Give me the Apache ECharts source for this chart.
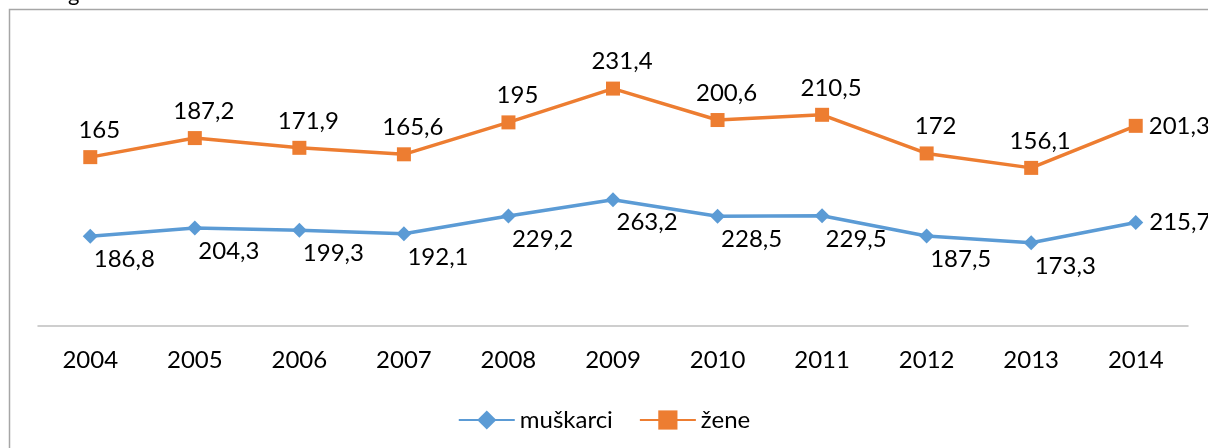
<!DOCTYPE html>
<html>
<head>
<meta charset="utf-8">
<script src="https://cdn.jsdelivr.net/npm/echarts@6/dist/echarts.min.js"></script>
<style>html,body{margin:0;padding:0;background:#fff;}#c{width:1208px;height:448px;}</style>
</head>
<body>
<div id="c"></div>
<script>
const categories = ['2004','2005','2006','2007','2008','2009','2010','2011','2012','2013','2014'];
const muskarci = [186.8, 204.3, 199.3, 192.1, 229.2, 263.2, 228.5, 229.5, 187.5, 173.3, 215.7];
const zene = [165, 187.2, 171.9, 165.6, 195, 231.4, 200.6, 210.5, 172, 156.1, 201.3];
const seriesNames = ['muškarci', 'žene'];

const FONT = 'Lato';
const FS = 24;
const fmt = p => String(p.value).replace('.', ',');
const last = categories.length - 1;

const blueData = muskarci.map((v, i) => i === last
  ? { value: v, label: { position: 'right', distance: 6, offset: [0, 0] } }
  : v);
const orangeData = zene.map((v, i) => i === last
  ? { value: v, label: { position: 'right', distance: 6, offset: [0, 0] } }
  : v);

const chart = echarts.init(document.getElementById('c'), null, { renderer: 'canvas' });
chart.setOption({
  animation: false,
  textStyle: { fontFamily: FONT },
  graphic: [
    { type: 'rect', shape: { x: 9.5, y: 9.5, width: 1220, height: 460 }, style: { fill: 'none', stroke: '#A6A6A6', lineWidth: 1.5 }, silent: true, z: -1 },
    { type: 'text', left: 68, top: -17, style: { text: 'g', font: '22px ' + FONT, fill: '#000' }, silent: true }
  ],
  grid: { left: 38, right: 20, top: 38, bottom: 122 },
  xAxis: {
    type: 'category',
    data: categories,
    boundaryGap: true,
    axisLine: { lineStyle: { color: '#BFBFBF', width: 1.5 } },
    axisTick: { show: false },
    axisLabel: { color: '#000', fontSize: FS, fontFamily: FONT, margin: 22 }
  },
  yAxis: {
    type: 'value', min: 0, max: 600,
    show: false,
    splitLine: { show: false }
  },
  legend: {
    bottom: 11,
    left: 'center',
    itemWidth: 56,
    itemHeight: 24,
    itemGap: 26,
    textStyle: { color: '#000', fontSize: FS, fontFamily: FONT },
    data: seriesNames
  },
  series: [
    {
      name: seriesNames[0],
      type: 'line',
      stack: 'total',
      data: blueData,
      color: '#5B9BD5',
      symbol: 'diamond',
      symbolSize: 15,
      lineStyle: { width: 3.5, color: '#5B9BD5' },
      itemStyle: { color: '#5B9BD5' },
      label: {
        show: true, position: 'right', distance: 0, offset: [-4, 23],
        color: '#000', fontSize: FS, fontFamily: FONT, formatter: fmt
      }
    },
    {
      name: seriesNames[1],
      type: 'line',
      stack: 'total',
      data: orangeData,
      color: '#ED7D31',
      symbol: 'rect',
      symbolSize: 14,
      lineStyle: { width: 3.5, color: '#ED7D31' },
      itemStyle: { color: '#ED7D31' },
      label: {
        show: true, position: 'top', distance: 8, offset: [9, 0],
        color: '#000', fontSize: FS, fontFamily: FONT, formatter: fmt
      }
    }
  ]
});
</script>
</body>
</html>
